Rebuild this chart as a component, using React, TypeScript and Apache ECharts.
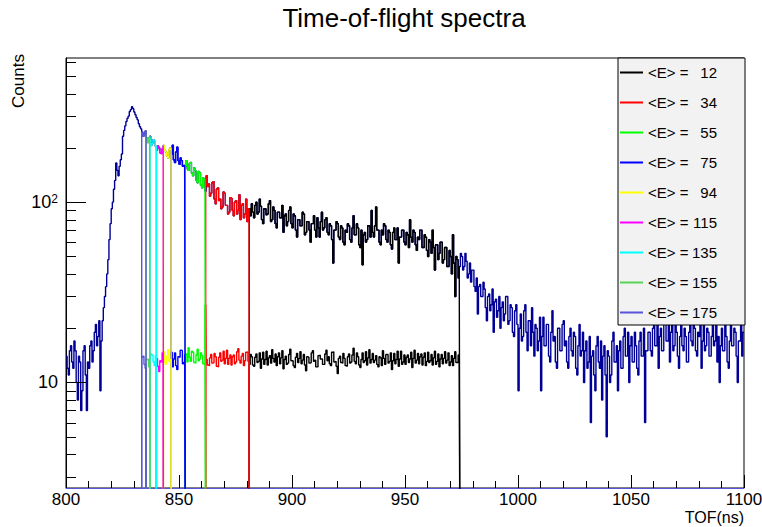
import React, { useEffect, useRef } from "react";
import * as echarts from "echarts";

// ---- data ----
const binStart = 800;
const binWidth = 0.5;
// total TOF spectrum, one value per 0.5 ns bin, 800.0 .. 1099.5
const totalCounts = [
  // 800-815.5
  14, 12, 11, 15, 16, 13, 12, 17, 15, 10, 8, 14, 13, 7, 9, 15,
  16, 11, 7, 13, 12, 16, 17, 13, 15, 19, 21, 16, 18, 22, 9, 17,
  // 816-833.5
  22, 26, 30, 34, 40, 48, 62, 76, 92, 100, 118, 132, 165, 150, 140, 158, 172, 185,
  232, 250, 265, 280, 292, 300, 318, 326, 338, 330, 316, 305, 295, 286, 272, 262, 255, 245,
  // 834-880.5
  232, 238, 248, 226, 214, 228, 232, 206, 212, 222, 218, 204, 194, 205, 200, 188, 186, 198, 206, 194,
  190, 180, 176, 196, 200, 185, 207, 172, 166, 190, 202, 170, 162, 176, 170, 158, 160, 152, 170, 158,
  150, 164, 166, 145, 140, 155, 150, 132, 128, 148, 146, 124, 120, 136, 134, 115, 140, 122, 126, 108,
  112, 128, 130, 104, 98, 118, 120, 102, 104, 92, 94, 114, 112, 96, 96, 86, 88, 106, 105, 90,
  84, 100, 102, 86, 90, 110, 80, 96, 98, 82, 86, 104, 78, 92,
  // 881-974.5
  92, 84, 98, 88, 82, 96, 100, 86, 88, 104, 95, 80, 76, 92, 92, 85, 86, 98, 102, 78,
  80, 94, 90, 76, 72, 88, 88, 82, 82, 96, 68, 84, 86, 74, 78, 90, 94, 76, 72, 86,
  84, 70, 64, 80, 80, 74, 74, 88, 86, 66, 68, 78, 78, 70, 60, 76, 76, 84, 70, 64,
  82, 72, 64, 78, 88, 70, 72, 80, 82, 68, 66, 76, 74, 62, 46, 70, 70, 78, 76, 64,
  62, 74, 72, 60, 58, 70, 68, 76, 74, 62, 60, 72, 84, 66, 66, 76, 72, 58, 56, 70,
  45, 66, 68, 60, 62, 74, 74, 64, 90, 68, 64, 74, 94, 70, 70, 60, 58, 70, 66, 76,
  74, 62, 60, 70, 68, 58, 55, 68, 72, 62, 62, 72, 46, 64, 64, 70, 70, 60, 58, 68,
  66, 56, 80, 64, 60, 70, 68, 58, 54, 64, 62, 70, 70, 56, 56, 66, 64, 54, 50, 62,
  60, 52, 70, 56, 42, 58, 58, 48, 52, 60, 60, 46, 48, 56, 56, 44, 44, 54, 50, 40,
  66, 46, 30, 50, 48, 38, 44, 52,
  // 975-999.5
  50, 42, 44, 52, 47, 38, 40, 46, 36, 42, 42, 34, 32, 38, 24, 34, 35, 30, 30, 36,
  33, 26, 22, 30, 31, 25, 27, 33, 19, 28, 29, 23, 25, 30, 20, 26, 28, 22, 24, 30,
  30, 21, 22, 27, 26, 19, 18, 25, 27, 21,
  // 1000-1020.5
  9, 20, 24, 17, 18, 25, 27, 19, 15, 22, 22, 16, 26, 19, 14, 21, 20, 15, 17, 23,
  9, 18, 23, 16, 16, 21, 21, 14, 13, 19, 25, 17, 18, 13, 12, 20, 20, 15, 15, 21,
  22, 16,
  // 1021-1057.5
  17, 13, 12, 18, 20, 15, 14, 19, 18, 12, 11, 16, 21, 14, 15, 19, 10, 15, 17, 12,
  13, 18, 6, 14, 15, 11, 9, 16, 18, 13, 12, 17, 8, 14, 16, 11, 5, 15, 14, 10,
  11, 17, 19, 13, 13, 16, 9, 15, 17, 12, 12, 18, 20, 14, 14, 19, 10, 16, 18, 13,
  13, 19, 16, 12, 11, 17, 19, 14, 14, 20, 6, 15, 15, 19,
  // 1058-1099.5
  19, 15, 14, 20, 22, 16, 16, 21, 12, 18, 20, 15, 15, 22, 24, 17, 17, 21, 13, 19,
  21, 15, 16, 23, 19, 14, 12, 18, 22, 16, 15, 20, 18, 13, 13, 19, 23, 17, 16, 21,
  20, 15, 14, 19, 18, 22, 12, 17, 21, 15, 16, 20, 19, 14, 14, 18, 22, 16, 17, 21,
  13, 18, 10, 16, 20, 15, 15, 21, 18, 13, 12, 17, 21, 16, 16, 20, 19, 14, 10, 17,
  17, 21, 14, 19,
];
// low-level band, one value per 0.5 ns bin, 833.0 .. 974.5
const lowStart = 833;
const lowCounts = [
  12.5, 13.8, 14, 12.6, 12, 13.4, 13.5, 12.2, 12.8, 14.4, 14.2, 13, 12.4, 14.1, 13.6, 12.3, 11.5, 13.2, 13, 14.6,
  14.8, 12.9, 12.6, 14, 15.2, 13.1, 13.4, 14.7, 12.2, 13.5, 14.6, 12.4, 11.8, 13.9, 13.8, 15.1, 15, 12.7, 12.9, 14.3,
  14.4, 13, 15.6, 13.8, 13.1, 14.9, 14.7, 12.9, 12.8, 14.2, 15.3, 13.2, 13.5, 14.6, 14.1, 12.7, 12.6, 27, 13.4, 12.5,
  12.4, 13.7, 14.3, 12.8, 12.9, 14.5, 13.9, 12.3, 12.2, 13.8, 14.6, 13.1, 13.3, 14.9, 12.7, 13.6, 15.1, 12.6, 13.6, 14.2,
  12.5, 13.9, 14.2, 12.7, 13, 14.8, 15.4, 13.3, 12.8, 14, 14.5, 12.4, 13.2, 14.7, 14.8, 13.1, 12.6, 14.3, 13.9, 12.5,
  12.3, 13.8, 14.4, 12.9, 13.1, 14.6, 12, 13.5, 14.7, 12.6, 13.4, 14.9, 12.5, 13.7, 14.1, 12.8, 15.2, 13.6, 13, 14.4,
  12.4, 13.9, 14.6, 12.7, 13.7, 15, 11.9, 13.4, 14, 12.6, 12.8, 14.3, 15.3, 13.2, 13.2, 12.4, 12.1, 13.8, 14.5, 12.9,
  13.6, 14.8, 12.7, 13.3, 14.3, 12.5, 11.6, 13.9, 13.8, 12.8, 12.9, 14.6, 15, 13.1, 13.3, 12.2, 12.2, 14.1, 14.2, 13.5,
  13.5, 12.6, 12.6, 14.4, 15.1, 13.2, 13.9, 12.7, 12.4, 14.7, 14.8, 13, 13.1, 12.3, 11.2, 13.6, 14, 12.9, 12.8, 14.5,
  13.6, 12.4, 12.3, 13.9, 14.4, 12.8, 13, 14.2, 15.5, 13.1, 12.7, 14.6, 13.9, 12.5, 12.1, 13.4, 14.6, 12.9, 13.2, 14.8,
  12.5, 13.7, 15.2, 12.8, 13.4, 14.5, 12.9, 13.3, 14.1, 12.6, 12.2, 13.9, 13.7, 12.4, 15, 13.6, 12.6, 14.3, 14.3, 12.8,
  13.1, 14.6, 11.8, 13.2, 14.5, 12.7, 13.4, 14.9, 12.3, 13.5, 14.9, 12.6, 13, 14.2, 12.6, 13.8, 14.2, 12.9, 13.5, 14.7,
  12.1, 13.6, 15.1, 12.8, 13.3, 14.5, 12.7, 13.9, 14.4, 12.5, 13.8, 14.6, 12.4, 13.1, 14.7, 12.9, 13.2, 14.3, 12.5, 13.7,
  14.9, 12.6, 13.1, 14.4, 12.2, 13.5, 14.3, 12.7, 13.6, 14.8, 12.8, 13.3, 14.6, 12.4, 13, 14.1, 12.4, 13.6, 14.8, 12.9,
  12.9, 14.2, 13.5, 12.8,
];
const energies = [12, 34, 55, 75, 94, 115, 135, 155, 175];
const gateLow = [881.1, 861.8, 852.8, 846.5, 843.1, 840.0, 837.2, 835.4, 833.5];
const gateHigh = [974.3, 881.1, 861.8, 852.8, 846.5, 843.1, 840.0, 837.2, 835.4];
const gateColors = ["#000000", "#ff0000", "#00ff00", "#0000ff", "#ffff00", "#ff00ff", "#00ffff", "#59d454", "#5954d9"];
const totalColor = "#000099";
const xMin = 800;
const xMax = 1100;
const yMin = 2.6;
const yMax = 630;
const yMinorTicks = [3, 4, 5, 6, 7, 8, 9, 20, 30, 40, 50, 60, 70, 80, 90, 200, 300, 400, 500, 600];
const yMajorTicks = [10, 100];

const FONT = "'Liberation Sans', Arial, Helvetica, sans-serif";
const FLOOR = 1;
const LW = 1.4;

function histPoints(start: number, width: number, vals: number[], a: number, b: number, drop: boolean) {
  const pts: number[][] = [];
  let i = Math.floor((a - start) / width + 1e-9);
  if (drop) pts.push([a, FLOOR]);
  pts.push([a, vals[i]]);
  let e = start + (i + 1) * width;
  while (e < b - 1e-9) {
    i++;
    pts.push([e, vals[i]]);
    e = start + (i + 1) * width;
  }
  pts.push([b, vals[i]]);
  if (drop) pts.push([b, FLOOR]);
  return pts;
}

export default function App() {
  const ref = useRef<HTMLDivElement>(null);
  useEffect(() => {
    if (!ref.current) return;
    const chart = echarts.init(ref.current, null, { renderer: "svg" });
    const series: any[] = [
      {
        name: "total",
        type: "line",
        step: "end",
        symbol: "none",
        silent: true,
        data: histPoints(binStart, binWidth, totalCounts, xMin, xMax, false),
        lineStyle: { color: totalColor, width: LW },
        itemStyle: { color: totalColor },
      },
    ];
    energies.forEach((en, k) => {
      const name = `<E> = ${en}`;
      const c = gateColors[k];
      series.push({
        name,
        type: "line",
        step: "end",
        symbol: "none",
        silent: true,
        data: histPoints(binStart, binWidth, totalCounts, gateLow[k], gateHigh[k], true),
        lineStyle: { color: c, width: LW },
        itemStyle: { color: c },
      });
      series.push({
        name,
        type: "line",
        step: "end",
        symbol: "none",
        silent: true,
        data: histPoints(lowStart, binWidth, lowCounts, gateLow[k], gateHigh[k], true),
        lineStyle: { color: c, width: LW },
        itemStyle: { color: c },
      });
    });

    chart.setOption({
      animation: false,
      backgroundColor: "#ffffff",
      title: {
        text: "Time-of-flight spectra",
        left: 404,
        top: 5,
        textAlign: "center",
        padding: 0,
        textStyle: { fontSize: 26, fontWeight: "normal", color: "#000", fontFamily: FONT },
      },
      grid: {
        left: 66,
        top: 58,
        width: 678,
        height: 430,
        show: true,
        borderColor: "#000",
        borderWidth: 1,
        backgroundColor: "transparent",
        containLabel: false,
        outerBoundsMode: "none",
      },
      legend: {
        data: energies.map((en) => `<E> = ${en}`),
        orient: "vertical",
        left: 618,
        top: 58,
        icon: "rect",
        itemWidth: 23,
        itemHeight: 2,
        itemGap: 15,
        padding: [7, 28, 5, 2],
        backgroundColor: "#f2f2f2",
        borderColor: "#000",
        borderWidth: 1,
        selectedMode: false,
        formatter: (name: string) => {
          const n = name.split("=")[1].trim();
          return `{l|<E> =}{n|${n}}`;
        },
        textStyle: {
          color: "#000",
          fontFamily: FONT,
          fontSize: 15,
          rich: {
            l: { width: 41, fontSize: 15, lineHeight: 15, fontFamily: FONT, color: "#000" },
            n: { width: 28, align: "right", fontSize: 15, lineHeight: 15, fontFamily: FONT, color: "#000" },
          },
        },
      },
      xAxis: {
        type: "value",
        min: xMin,
        max: xMax,
        interval: 50,
        name: "TOF(ns)",
        nameLocation: "end",
        nameGap: 0,
        nameMoveOverlap: false,
        nameTextStyle: {
          fontSize: 16,
          fontFamily: FONT,
          color: "#000",
          align: "right",
          verticalAlign: "top",
          padding: [21, 0, 0, 0],
        },
        axisLine: { show: true, onZero: false, lineStyle: { color: "#5954d9", width: 1 } },
        axisTick: { show: true, inside: true, length: 13, lineStyle: { color: "#000", width: 1 } },
        minorTick: { show: true, splitNumber: 5, length: 7, lineStyle: { color: "#000", width: 1 } },
        splitLine: { show: false },
        minorSplitLine: { show: false },
        axisLabel: {
          fontSize: 17,
          color: "#000",
          fontFamily: FONT,
          margin: 3,
          hideOverlap: false,
          formatter: (v: number) => String(v),
        },
      },
      yAxis: {
        type: "log",
        logBase: 10,
        min: yMin,
        max: yMax,
        axisLine: { show: true, lineStyle: { color: "#000", width: 1 } },
        axisTick: { show: false },
        splitLine: { show: false },
        minorTick: { show: false },
        axisLabel: {
          margin: 8,
          fontSize: 18,
          color: "#000",
          fontFamily: FONT,
          showMinLabel: true,
          showMaxLabel: true,
          formatter: (v: number) => {
            if (Math.abs(v - 10) < 1e-6) return "10";
            if (Math.abs(v - 100) < 1e-4) return "10{s|2}";
            return "";
          },
          rich: {
            s: { fontSize: 12, verticalAlign: "top", lineHeight: 12, fontFamily: FONT, color: "#000" },
          },
        },
      },
      series,
    });

    const x0 = chart.convertToPixel({ xAxisIndex: 0 }, xMin) as number;
    const tickEls: any[] = [];
    const addTick = (v: number, len: number) => {
      const py = Math.round(chart.convertToPixel({ yAxisIndex: 0 }, v) as number) + 0.5;
      tickEls.push({
        type: "line",
        silent: true,
        shape: { x1: x0, y1: py, x2: x0 + len, y2: py },
        style: { stroke: "#000", lineWidth: 1 },
        z: 50,
      });
    };
    yMinorTicks.forEach((v) => addTick(v, 10));
    yMajorTicks.forEach((v) => addTick(v, 20));
    tickEls.push({
      type: "text",
      silent: true,
      x: 18.5,
      y: 81,
      rotation: Math.PI / 2,
      style: {
        text: "Counts",
        fontSize: 17,
        fontFamily: FONT,
        fill: "#000",
        align: "center",
        verticalAlign: "middle",
      },
      z: 50,
    });
    chart.setOption({ graphic: tickEls });

    return () => chart.dispose();
  }, []);
  return (
    <div
      ref={ref}
      style={{ position: "absolute", left: 0, top: 0, width: 762, height: 527 }}
    />
  );
}
